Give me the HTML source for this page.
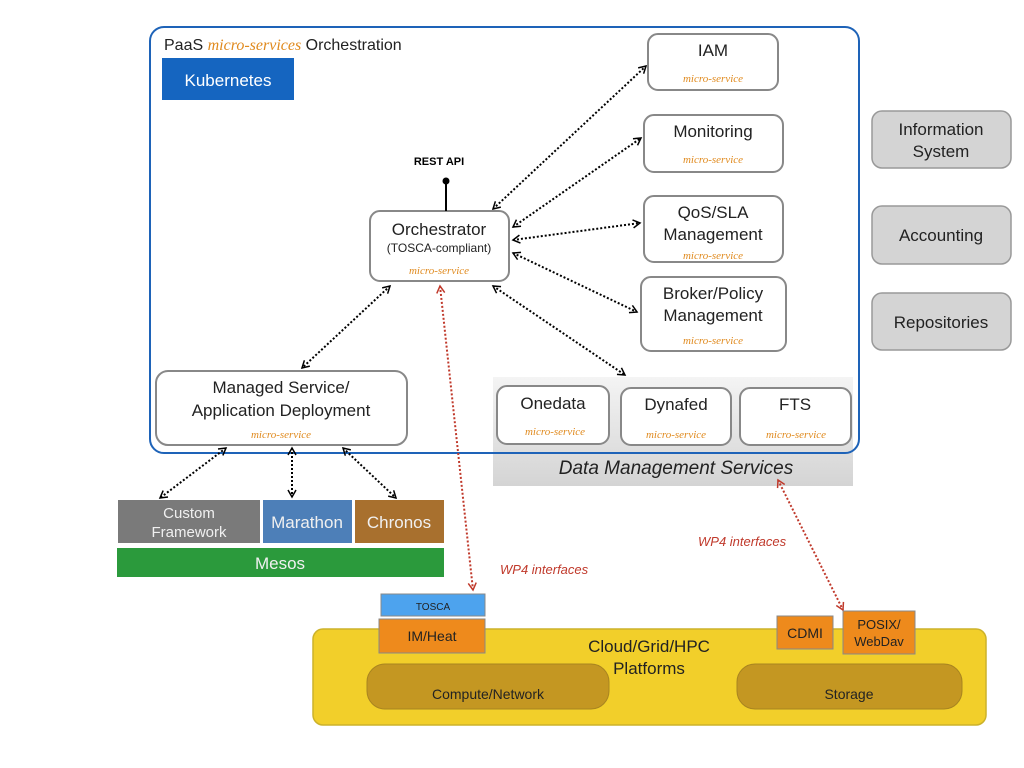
<!DOCTYPE html>
<html><head><meta charset="utf-8"><style>
body{margin:0;background:#fff}
svg{display:block;font-family:"Liberation Sans",sans-serif}
.ms{font-family:"Liberation Serif",serif;font-style:italic;fill:#e08a1e;font-size:11px}
</style></head><body>
<svg width="1024" height="768" viewBox="0 0 1024 768">
<defs>
<marker id="a" markerWidth="10" markerHeight="10" refX="8" refY="5" orient="auto-start-reverse" markerUnits="userSpaceOnUse"><path d="M1,1 L8,5 L1,9" fill="none" stroke="#000" stroke-width="1.5"/></marker>
<marker id="r" markerWidth="10" markerHeight="10" refX="8" refY="5" orient="auto-start-reverse" markerUnits="userSpaceOnUse"><path d="M1,1 L8,5 L1,9" fill="none" stroke="#c0392b" stroke-width="1.5"/></marker>
<linearGradient id="g" x1="0" y1="0" x2="0" y2="1"><stop offset="0" stop-color="#f4f4f4"/><stop offset="1" stop-color="#d4d4d4"/></linearGradient>
</defs>
<!-- data mgmt bg -->
<rect x="493" y="377" width="360" height="109" fill="url(#g)"/>
<text x="676" y="474" font-size="19" font-style="italic" text-anchor="middle" fill="#222">Data Management Services</text>
<!-- outer -->
<rect x="150" y="27" width="709" height="426" rx="14" fill="none" stroke="#1e63b8" stroke-width="2"/>
<text x="164" y="50" font-size="16" fill="#222">PaaS <tspan font-family="Liberation Serif" font-style="italic" fill="#e08a1e">micro-services</tspan> Orchestration</text>
<rect x="162" y="58" width="132" height="42" fill="#1565c0"/>
<text x="228" y="86" font-size="17" fill="#fff" text-anchor="middle">Kubernetes</text>
<g fill="#fff" stroke="#888" stroke-width="2">
<rect x="648" y="34" width="130" height="56" rx="10"/>
<rect x="644" y="115" width="139" height="57" rx="10"/>
<rect x="644" y="196" width="139" height="66" rx="10"/>
<rect x="641" y="277" width="145" height="74" rx="10"/>
<rect x="370" y="211" width="139" height="70" rx="10"/>
<rect x="156" y="371" width="251" height="74" rx="12"/>
<rect x="497" y="386" width="112" height="58" rx="10"/>
<rect x="621" y="388" width="110" height="57" rx="10"/>
<rect x="740" y="388" width="111" height="57" rx="10"/>
</g>
<g fill="#d4d4d4" stroke="#999" stroke-width="1.5">
<rect x="872" y="111" width="139" height="57" rx="10"/>
<rect x="872" y="206" width="139" height="58" rx="10"/>
<rect x="872" y="293" width="139" height="57" rx="10"/>
</g>
<g font-size="17" fill="#222" text-anchor="middle">
<text x="713" y="56">IAM</text>
<text x="713" y="137">Monitoring</text>
<text x="713" y="218">QoS/SLA</text><text x="713" y="240">Management</text>
<text x="713" y="299">Broker/Policy</text><text x="713" y="321">Management</text>
<text x="439" y="235">Orchestrator</text>
<text x="439" y="252" font-size="12">(TOSCA-compliant)</text>
<text x="281" y="393">Managed Service/</text><text x="281" y="416">Application Deployment</text>
<text x="553" y="409">Onedata</text>
<text x="676" y="410">Dynafed</text>
<text x="795" y="410">FTS</text>
<text x="941" y="135">Information</text><text x="941" y="157">System</text>
<text x="941" y="241">Accounting</text>
<text x="941" y="328">Repositories</text>
</g>
<g class="ms" text-anchor="middle">
<text x="713" y="82">micro-service</text>
<text x="713" y="163">micro-service</text>
<text x="713" y="259">micro-service</text>
<text x="713" y="344">micro-service</text>
<text x="439" y="274">micro-service</text>
<text x="281" y="438">micro-service</text>
<text x="555" y="435">micro-service</text>
<text x="676" y="438">micro-service</text>
<text x="796" y="438">micro-service</text>
</g>
<text x="439" y="165" font-size="11" font-weight="bold" text-anchor="middle">REST API</text>
<line x1="446" y1="181" x2="446" y2="211" stroke="#000" stroke-width="2"/>
<circle cx="446" cy="181" r="3.5"/>
<g stroke="#000" stroke-width="2" stroke-dasharray="2,2" fill="none" marker-start="url(#a)" marker-end="url(#a)">
<line x1="493" y1="209" x2="646" y2="66"/>
<line x1="513" y1="227" x2="641" y2="138"/>
<line x1="513" y1="240" x2="640" y2="223"/>
<line x1="513" y1="253" x2="637" y2="312"/>
<line x1="493" y1="286" x2="625" y2="375"/>
<line x1="390" y1="286" x2="302" y2="368"/>
<line x1="226" y1="448" x2="160" y2="498"/>
<line x1="292" y1="448" x2="292" y2="497"/>
<line x1="343" y1="448" x2="396" y2="498"/>
</g>
<g stroke="#c0392b" stroke-width="2" stroke-dasharray="2,2" fill="none" marker-start="url(#r)" marker-end="url(#r)">
<line x1="440" y1="286" x2="473" y2="590"/>
<line x1="778" y1="480" x2="843" y2="610"/>
</g>
<g font-size="13" font-style="italic" fill="#c0392b">
<text x="500" y="574">WP4 interfaces</text>
<text x="698" y="546">WP4 interfaces</text>
</g>
<rect x="118" y="500" width="142" height="43" fill="#7a7a7a"/>
<rect x="263" y="500" width="89" height="43" fill="#4d7fb8"/>
<rect x="355" y="500" width="89" height="43" fill="#a8702e"/>
<rect x="117" y="548" width="327" height="29" fill="#2b9a3c"/>
<g fill="#f0f0f0" text-anchor="middle" font-size="15">
<text x="189" y="518">Custom</text><text x="189" y="537">Framework</text>
<text x="307" y="528" font-size="17">Marathon</text>
<text x="399" y="528" font-size="17">Chronos</text>
<text x="280" y="569" font-size="17">Mesos</text>
</g>
<rect x="313" y="629" width="673" height="96" rx="10" fill="#f2cf2a" stroke="#ccb22a" stroke-width="1.5"/>
<rect x="367" y="664" width="242" height="45" rx="18" fill="#c49722" stroke="#a88420"/>
<rect x="737" y="664" width="225" height="45" rx="18" fill="#c49722" stroke="#a88420"/>
<rect x="381" y="594" width="104" height="22" fill="#4da3ee" stroke="#888"/>
<rect x="379" y="619" width="106" height="34" fill="#ee8a1c" stroke="#888"/>
<rect x="777" y="616" width="56" height="33" fill="#ee8a1c" stroke="#888"/>
<rect x="843" y="611" width="72" height="43" fill="#ee8a1c" stroke="#888"/>
<g text-anchor="middle" fill="#222">
<text x="433" y="610" font-size="10">TOSCA</text>
<text x="432" y="641" font-size="14">IM/Heat</text>
<text x="805" y="638" font-size="14">CDMI</text>
<text x="879" y="629" font-size="13">POSIX/</text><text x="879" y="646" font-size="13">WebDav</text>
<text x="649" y="652" font-size="17">Cloud/Grid/HPC</text><text x="649" y="674" font-size="17">Platforms</text>
<text x="488" y="699" font-size="14">Compute/Network</text>
<text x="849" y="699" font-size="14">Storage</text>
</g>
</svg>
</body></html>
